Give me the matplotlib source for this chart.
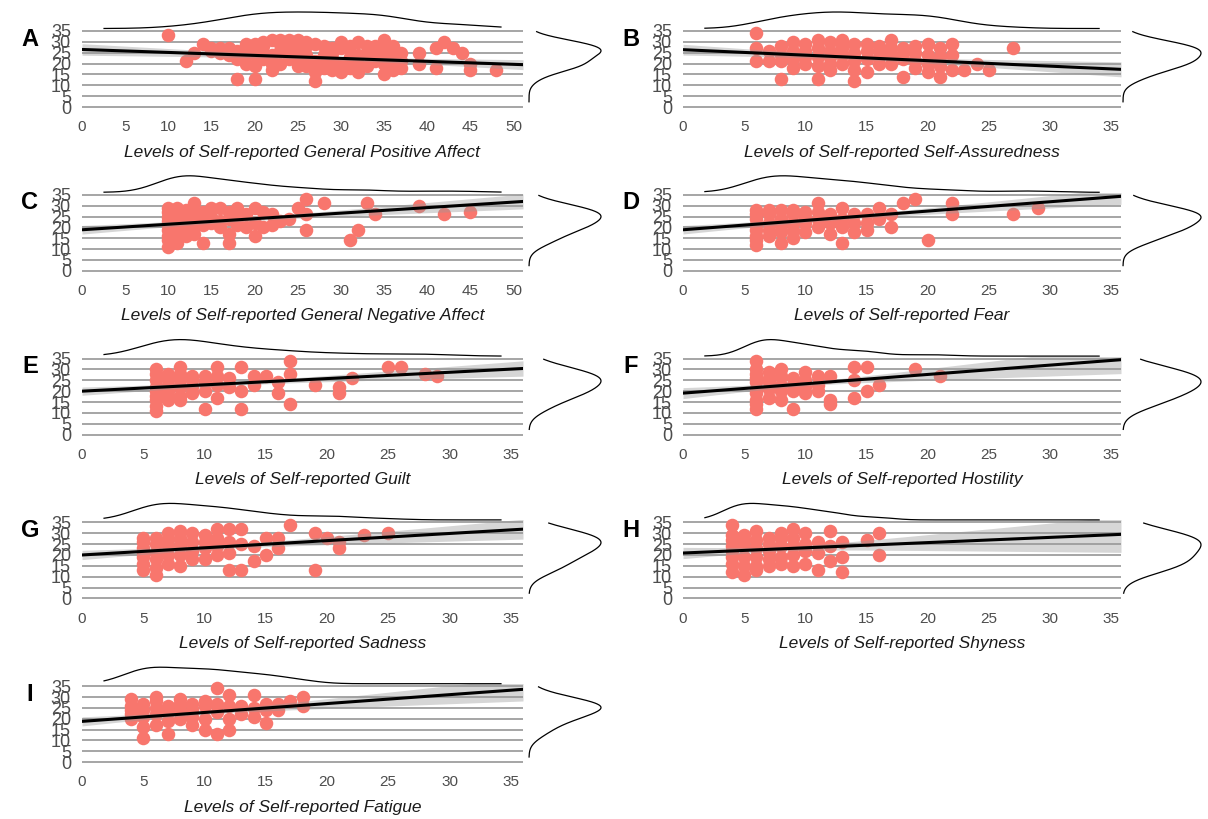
import numpy as np
import matplotlib
matplotlib.use("Agg")
import matplotlib.pyplot as plt

plt.rcParams['font.family'] = ['Liberation Sans', 'DejaVu Sans']

# panel letters, x-axis titles and axis upper limits
panel_letters = ['A', 'B', 'C', 'D', 'E', 'F', 'G', 'H', 'I']
x_titles = [
    'Levels of Self-reported General Positive Affect',
    'Levels of Self-reported Self-Assuredness',
    'Levels of Self-reported General Negative Affect',
    'Levels of Self-reported Fear',
    'Levels of Self-reported Guilt',
    'Levels of Self-reported Hostility',
    'Levels of Self-reported Sadness',
    'Levels of Self-reported Shyness',
    'Levels of Self-reported Fatigue',
]
x_max = [51.1, 35.8, 51.1, 35.8, 36.0, 35.8, 36.0, 35.8, 36.0]
x_tick_max = [50, 35, 50, 35, 35, 35, 35, 35, 35]

# fitted regression lines
fit_intercept = [26.5, 26.4, 18.9, 18.9, 20.0, 19.1, 20.0, 20.9, 18.8]
fit_slope = [-0.137, -0.253, 0.255, 0.43, 0.29, 0.43, 0.33, 0.24, 0.41]
n_participants = 150

# scatter points (score, outcome)
pts_a = [(10, 33), (12, 21), (13, 25), (14, 29), (15, 26), (15, 27), (16, 27), (16, 25), (17, 24),
         (17, 27), (18, 13), (18, 22), (18, 26), (19, 29), (19, 20), (19, 24), (19, 27), (20, 13),
         (20, 29), (20, 19), (20, 24), (21, 25), (21, 22), (21, 28), (21, 30), (22, 31), (22, 17),
         (22, 24), (22, 20), (23, 26), (23, 20), (23, 29), (23, 31), (24, 31), (24, 22), (24, 25),
         (24, 28), (25, 31), (25, 22), (25, 27), (25, 19), (26, 28), (26, 19), (26, 24), (26, 30),
         (27, 12), (27, 16), (27, 21), (27, 29), (28, 24), (28, 28), (28, 18), (28, 21), (29, 27),
         (29, 17), (29, 22), (29, 25), (30, 27), (30, 20), (30, 30), (30, 16), (31, 23), (31, 18),
         (31, 28), (32, 30), (32, 16), (32, 24), (32, 20), (33, 25), (33, 19), (33, 28), (34, 21),
         (34, 28), (34, 24), (35, 31), (35, 27), (35, 15), (35, 20), (35, 24), (36, 24), (36, 17),
         (36, 28), (36, 21), (37, 18), (37, 21), (37, 25), (39, 25), (39, 20), (41, 18), (41, 27),
         (42, 30), (43, 27), (44, 25), (45, 20), (45, 17), (48, 17)]
pts_b = [(6, 34), (6, 27), (6, 21), (7, 26), (7, 21), (8, 13), (8, 28), (8, 21), (8, 24), (9, 30),
         (9, 18), (9, 26), (9, 22), (10, 26), (10, 20), (10, 29), (10, 23), (11, 31), (11, 13),
         (11, 23), (11, 27), (11, 19), (12, 30), (12, 17), (12, 23), (12, 26), (12, 20), (13, 31),
         (13, 24), (13, 20), (13, 27), (13, 29), (14, 29), (14, 12), (14, 17), (14, 25), (14, 21),
         (15, 26), (15, 16), (15, 22), (15, 29), (16, 26), (16, 20), (16, 28), (16, 23), (17, 31),
         (17, 24), (17, 20), (17, 27), (18, 27), (18, 14), (18, 22), (18, 25), (19, 21), (19, 18),
         (19, 25), (19, 28), (20, 29), (20, 16), (20, 24), (20, 20), (21, 23), (21, 14), (21, 19),
         (21, 27), (22, 29), (22, 24), (22, 17), (23, 17), (24, 20), (25, 17), (27, 27)]
pts_c = [(10, 27), (10, 23), (10, 19), (10, 16), (10, 11), (10, 25), (10, 21), (10, 14), (10, 29),
         (11, 29), (11, 23), (11, 17), (11, 26), (11, 20), (11, 13), (12, 26), (12, 19), (12, 23),
         (12, 28), (12, 16), (13, 31), (13, 24), (13, 27), (13, 20), (13, 17), (14, 13), (14, 27),
         (14, 21), (14, 24), (15, 25), (15, 29), (15, 22), (16, 29), (16, 23), (16, 20), (17, 13),
         (17, 17), (17, 27), (17, 24), (18, 29), (18, 24), (18, 21), (19, 20), (19, 26), (20, 29),
         (20, 16), (20, 22), (21, 20), (21, 27), (22, 26), (22, 21), (23, 23), (24, 24), (25, 29),
         (26, 33), (26, 26), (26, 19), (28, 31), (31, 14), (32, 19), (33, 31), (34, 26), (39, 30),
         (42, 26), (45, 27)]
pts_d = [(6, 26), (6, 21), (6, 16), (6, 12), (6, 24), (6, 19), (6, 14), (6, 28), (7, 26), (7, 16),
         (7, 22), (7, 19), (7, 28), (8, 28), (8, 13), (8, 21), (8, 24), (8, 18), (9, 26), (9, 19),
         (9, 22), (9, 28), (9, 15), (10, 27), (10, 22), (10, 18), (10, 25), (11, 31), (11, 20),
         (11, 24), (11, 27), (12, 26), (12, 17), (12, 22), (13, 29), (13, 13), (13, 20), (13, 24),
         (14, 26), (14, 18), (14, 22), (15, 26), (15, 19), (15, 22), (16, 29), (16, 24), (17, 26),
         (17, 20), (18, 31), (19, 33), (20, 14), (22, 31), (22, 26), (27, 26), (29, 29)]
pts_e = [(6, 30), (6, 25), (6, 20), (6, 16), (6, 11), (6, 28), (6, 22), (6, 18), (6, 13), (7, 28),
         (7, 23), (7, 16), (7, 26), (7, 20), (7, 18), (8, 31), (8, 25), (8, 18), (8, 28), (8, 22),
         (8, 16), (9, 27), (9, 22), (9, 25), (9, 19), (10, 27), (10, 12), (10, 20), (10, 24),
         (11, 31), (11, 23), (11, 17), (11, 27), (12, 26), (12, 22), (13, 31), (13, 20), (13, 12),
         (14, 27), (14, 23), (15, 27), (16, 24), (16, 19), (17, 34), (17, 28), (17, 14), (19, 23),
         (21, 22), (21, 19), (22, 26), (25, 31), (26, 31), (28, 28), (29, 27)]
pts_f = [(6, 34), (6, 30), (6, 26), (6, 21), (6, 16), (6, 12), (6, 24), (6, 19), (6, 28), (6, 14),
         (7, 29), (7, 17), (7, 24), (7, 21), (7, 26), (8, 27), (8, 16), (8, 23), (8, 30), (8, 20),
         (9, 12), (9, 20), (9, 26), (9, 23), (10, 29), (10, 19), (10, 25), (10, 22), (11, 23),
         (11, 27), (11, 20), (12, 27), (12, 16), (12, 14), (14, 31), (14, 25), (14, 17), (15, 31),
         (15, 20), (16, 23), (19, 30), (21, 27)]
pts_g = [(5, 28), (5, 23), (5, 19), (5, 13), (5, 26), (5, 21), (5, 16), (6, 28), (6, 21), (6, 11),
         (6, 25), (6, 18), (6, 14), (7, 30), (7, 24), (7, 16), (7, 27), (7, 20), (8, 28), (8, 15),
         (8, 24), (8, 20), (8, 31), (9, 30), (9, 22), (9, 26), (9, 18), (10, 29), (10, 18), (10, 23),
         (10, 26), (11, 32), (11, 24), (11, 28), (11, 20), (12, 32), (12, 13), (12, 21), (12, 26),
         (13, 32), (13, 13), (13, 25), (14, 17), (14, 24), (15, 28), (15, 20), (16, 28), (16, 23),
         (17, 34), (19, 30), (19, 13), (20, 28), (21, 26), (21, 23), (23, 29), (25, 30)]
pts_h = [(4, 34), (4, 27), (4, 22), (4, 16), (4, 12), (4, 24), (4, 19), (4, 29), (5, 27), (5, 11),
         (5, 19), (5, 24), (5, 29), (5, 15), (6, 31), (6, 23), (6, 15), (6, 27), (6, 19), (6, 13),
         (7, 28), (7, 15), (7, 22), (7, 25), (7, 18), (8, 28), (8, 19), (8, 24), (8, 16), (8, 30),
         (9, 32), (9, 15), (9, 24), (9, 20), (9, 28), (10, 30), (10, 16), (10, 22), (10, 25),
         (11, 26), (11, 13), (11, 21), (12, 31), (12, 17), (12, 24), (13, 26), (13, 12), (13, 19),
         (15, 27), (16, 30), (16, 20)]
pts_i = [(4, 29), (4, 24), (4, 20), (4, 26), (4, 22), (5, 24), (5, 11), (5, 16), (5, 27), (5, 21),
         (6, 30), (6, 22), (6, 17), (6, 25), (6, 28), (7, 26), (7, 13), (7, 23), (7, 19), (8, 29),
         (8, 20), (8, 24), (8, 27), (9, 27), (9, 17), (9, 21), (9, 24), (10, 26), (10, 15), (10, 20),
         (10, 28), (11, 34), (11, 13), (11, 23), (11, 27), (12, 31), (12, 15), (12, 26), (12, 20),
         (13, 26), (13, 22), (14, 31), (14, 21), (14, 25), (15, 18), (15, 24), (15, 27), (16, 24),
         (16, 27), (17, 28), (18, 30), (18, 26)]

panels = [pts_a, pts_b, pts_c, pts_d, pts_e, pts_f, pts_g, pts_h, pts_i]


def kde(vals, grid, adjust=1.0):
    v = np.asarray(vals, float)
    sd = v.std(ddof=1)
    q75, q25 = np.percentile(v, [75, 25])
    bw = adjust * 0.9 * min(sd, (q75 - q25) / 1.34) * len(v) ** -0.2
    z = (grid[:, None] - v[None, :]) / bw
    return np.exp(-0.5 * z ** 2).sum(1) / (len(v) * bw * np.sqrt(2 * np.pi))


W, H = 1208, 819
fig = plt.figure(figsize=(W / 100, H / 100), dpi=100)


def px_axes(x0, x1, top, bottom):
    return fig.add_axes([x0 / W, 1 - bottom / H, (x1 - x0) / W, (bottom - top) / H])


col_x0 = [82, 683]
col_x1 = [523, 1121]
rd_x0 = [529, 1123]
rd_x1 = [601, 1201]
row_step = 163.8
y_lo, y_hi = -0.92, 35.92

for i, pts in enumerate(panels):
    col, row = i % 2, i // 2
    off = row * row_step
    xs = np.array([p[0] for p in pts], float)
    ys = np.array([p[1] for p in pts], float)
    xm = x_max[i]

    ax = px_axes(col_x0[col], col_x1[col], 29 + off, 109 + off)
    ax.set_xlim(0, xm)
    ax.set_ylim(y_lo, y_hi)
    ax.set_yticks(range(0, 36, 5))
    ax.set_xticks(range(0, x_tick_max[i] + 1, 5))
    ax.grid(axis='y', color='#969696', lw=1.2)
    ax.set_axisbelow(True)
    for s in ax.spines.values():
        s.set_visible(False)
    ax.tick_params(length=0, colors='#4d4d4d')
    ax.tick_params(axis='x', labelsize=11, pad=8)
    ax.tick_params(axis='y', labelsize=13, pad=8)

    ax.scatter(xs, ys, s=95, color='#F8766D', lw=0, zorder=2, clip_on=False)

    # fitted line with 95% band
    xl = np.linspace(0, xm, 200)
    yl = fit_intercept[i] + fit_slope[i] * xl
    resid = ys - (fit_intercept[i] + fit_slope[i] * xs)
    s_res = resid.std(ddof=2)
    se = s_res * np.sqrt(1 / n_participants + (xl - xs.mean()) ** 2 / (n_participants * xs.var()))
    ax.fill_between(xl, yl - 1.96 * se, yl + 1.96 * se, color='#999999', alpha=0.4, lw=0, zorder=3)
    ax.plot(xl, yl, color='black', lw=2.2, zorder=4)

    fig.text((col_x0[col] - 52) / W, 1 - (39 + off) / H, panel_letters[i], fontsize=17,
             fontweight='bold', ha='center', va='center')
    fig.text((col_x0[col] + col_x1[col]) / 2 / W, 1 - (152 + off) / H, x_titles[i],
             fontsize=12.5, style='italic', ha='center', va='center', color='#1a1a1a')

    # top marginal density
    axt = px_axes(col_x0[col], col_x1[col], 12 + off, 28.5 + off)
    gx = np.linspace(0.05 * xm, 0.95 * xm, 300)
    dx = kde(xs, gx)
    axt.plot(gx, dx, color='black', lw=0.9, clip_on=False)
    axt.set_xlim(0, xm)
    axt.set_ylim(0, dx.max())
    axt.axis('off')

    # right marginal density
    axr = px_axes(rd_x0[col], rd_x1[col], 29 + off, 109 + off)
    gy = np.linspace(2.4, 34.7, 300)
    dy = kde(ys, gy, adjust=1.5)
    axr.plot(dy, gy, color='black', lw=0.9, clip_on=False)
    axr.set_ylim(y_lo, y_hi)
    axr.set_xlim(0, dy.max())
    axr.axis('off')

fig.savefig('out.png', dpi=100)
